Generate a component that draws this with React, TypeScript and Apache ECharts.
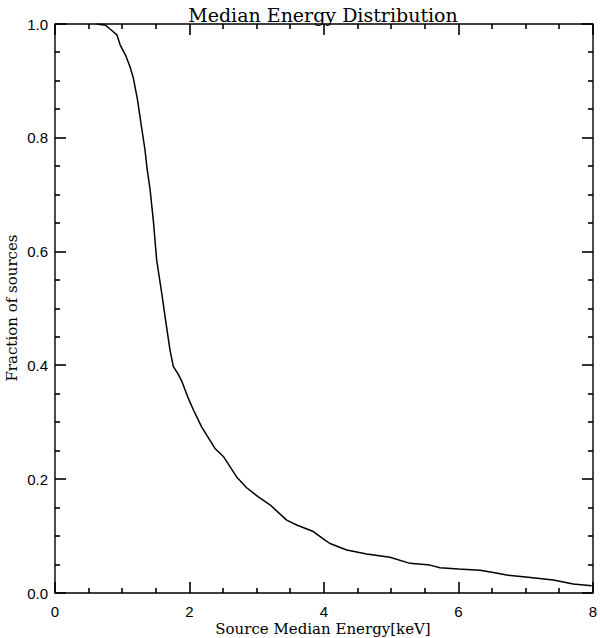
import React, { useEffect, useRef } from "react";
import * as echarts from "echarts";

const energyKeV = [
  0.62, 0.75, 0.84, 0.92, 0.97, 1.05, 1.115, 1.165, 1.224, 1.289, 1.338, 1.37,
  1.413, 1.462, 1.512, 1.587, 1.636, 1.71, 1.76, 1.83, 1.89, 1.983, 2.057, 2.18,
  2.379, 2.503, 2.701, 2.85, 3.023, 3.197, 3.445, 3.594, 3.841, 4.015, 4.089,
  4.337, 4.635, 4.981, 5.279, 5.576, 5.725, 6.0, 6.32, 6.518, 6.716, 7.0, 7.41,
  7.707, 7.98,
];
const fraction = [
  1.0, 0.998, 0.989, 0.981, 0.963, 0.945, 0.925, 0.905, 0.869, 0.817, 0.779, 0.745,
  0.71, 0.655, 0.585, 0.527, 0.486, 0.427, 0.398, 0.385, 0.371, 0.342, 0.322, 0.292,
  0.254, 0.24, 0.204, 0.185, 0.169, 0.155, 0.128, 0.1195, 0.108, 0.093, 0.087,
  0.0756, 0.0685, 0.0627, 0.0521, 0.049, 0.0445, 0.042, 0.04, 0.036, 0.0316, 0.028,
  0.0228, 0.0158, 0.0128,
];

const xMajorTicks = [0, 2, 4, 6, 8];
const xMinorTicks = [0.5, 1, 1.5, 2.5, 3, 3.5, 4.5, 5, 5.5, 6.5, 7, 7.5];
const yMajorTicks = [0, 0.2, 0.4, 0.6, 0.8, 1.0];
const yMinorTicks = [
  0.05, 0.1, 0.15, 0.25, 0.3, 0.35, 0.45, 0.5, 0.55, 0.65, 0.7, 0.75, 0.85, 0.9, 0.95,
];

const titleText = "Median Energy Distribution";
const xName = "Source Median Energy[keV]";
const yName = "Fraction of sources";

export default function App() {
  const ref = useRef<HTMLDivElement>(null);
  useEffect(() => {
    document.body.style.margin = "0";
    const chart = echarts.init(ref.current!, null, { renderer: "svg" });
    const serif = "DejaVu Serif";
    const sans = "Liberation Sans";

    // ticks drawn on all four sides, pointing inward, via the axes' own scales
    const tickSeries = (values: number[], dir: "x" | "y", len: number) => ({
      type: "custom",
      clip: false,
      silent: true,
      z: 5,
      data: values.map((v) => (dir === "x" ? [v, 0] : [0, v])),
      renderItem: (_params: any, api: any) => {
        const st = { stroke: "#000", lineWidth: 1.6 };
        if (dir === "x") {
          const v = api.value(0);
          const b = api.coord([v, 0]);
          const t = api.coord([v, 1]);
          const x = Math.round(b[0]);
          return {
            type: "group",
            children: [
              { type: "line", shape: { x1: x, y1: b[1], x2: x, y2: b[1] - len }, style: st },
              { type: "line", shape: { x1: x, y1: t[1], x2: x, y2: t[1] + len }, style: st },
            ],
          };
        }
        const v = api.value(1);
        const l = api.coord([0, v]);
        const r = api.coord([8, v]);
        const y = Math.round(l[1]);
        return {
          type: "group",
          children: [
            { type: "line", shape: { x1: l[0], y1: y, x2: l[0] + len, y2: y }, style: st },
            { type: "line", shape: { x1: r[0], y1: y, x2: r[0] - len, y2: y }, style: st },
          ],
        };
      },
    });

    chart.setOption({
      animation: false,
      backgroundColor: "#fff",
      title: {
        text: titleText,
        left: 318,
        textAlign: "center",
        top: 0,
        textStyle: { fontFamily: serif, fontSize: 19, fontWeight: "normal", color: "#000" },
      },
      grid: {
        left: 55,
        right: 7,
        top: 24,
        bottom: 45,
        containLabel: false,
        outerBoundsMode: "none",
        show: true,
        borderColor: "#000",
        borderWidth: 1.4,
        backgroundColor: "transparent",
      },
      xAxis: {
        type: "value",
        min: 0,
        max: 8,
        interval: 2,
        axisLine: { show: false },
        axisTick: { show: false },
        splitLine: { show: false },
        axisLabel: {
          show: true,
          margin: 11,
          color: "#000",
          fontFamily: sans,
          fontSize: 15,
          formatter: (v: number) => String(v),
        },
      },
      yAxis: {
        type: "value",
        min: 0,
        max: 1,
        interval: 0.2,
        axisLine: { show: false },
        axisTick: { show: false },
        splitLine: { show: false },
        axisLabel: {
          show: true,
          margin: 7,
          color: "#000",
          fontFamily: sans,
          fontSize: 15,
          formatter: (v: number) => v.toFixed(1),
        },
      },
      graphic: [
        {
          type: "text",
          x: 323,
          y: 629,
          style: {
            text: xName,
            fill: "#000",
            font: `15px "${serif}"`,
            align: "center",
            verticalAlign: "middle",
            textAlign: "center",
            textVerticalAlign: "middle",
          },
        },
        {
          type: "text",
          x: 12,
          y: 308,
          rotation: Math.PI / 2,
          style: {
            text: yName,
            fill: "#000",
            font: `15px "${serif}"`,
            align: "center",
            verticalAlign: "middle",
            textAlign: "center",
            textVerticalAlign: "middle",
          },
        },
      ],
      series: [
        {
          type: "line",
          data: energyKeV.map((x, i) => [x, fraction[i]]),
          showSymbol: false,
          symbol: "none",
          lineStyle: { color: "#000", width: 1.5 },
        },
        tickSeries(xMajorTicks, "x", 11),
        tickSeries(xMinorTicks, "x", 5),
        tickSeries(yMajorTicks, "y", 11),
        tickSeries(yMinorTicks, "y", 5),
      ],
    });
    return () => chart.dispose();
  }, []);
  return <div ref={ref} style={{ width: 600, height: 638 }} />;
}
